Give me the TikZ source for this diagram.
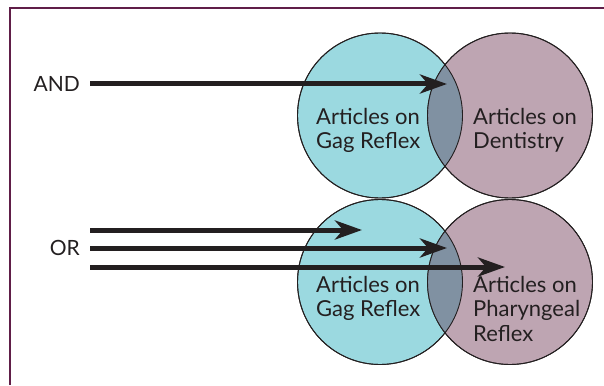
\documentclass[tikz,border=0pt]{standalone}
\usepackage{fontspec}
\setmainfont{Lato}
\usepackage{tikz}
\usetikzlibrary{arrows.meta,positioning}
\definecolor{SetCyan}{RGB}{155,217,224}
\definecolor{SetMauve}{RGB}{190,165,178}
\definecolor{SetBoth}{RGB}{128,145,162}
\definecolor{FrameWine}{RGB}{96,30,72}
\definecolor{InkDark}{RGB}{35,31,32}
\tikzset{
  setc/.style={circle,draw=InkDark,line width=0.9pt,minimum size=165pt,inner sep=0pt},
  stxt/.style={anchor=north west,align=left,inner sep=0pt,text=InkDark,font=\fontsize{22}{24.5}\selectfont},
  optxt/.style={text=InkDark,font=\fontsize{21}{24}\selectfont,inner sep=0pt},
  arr/.style={-{Stealth[length=27pt,width=19pt,inset=8pt]},InkDark,line width=5pt},
}

\begin{document}
\begin{tikzpicture}[x=1pt,y=-1pt]
    \useasboundingbox (0,0) rectangle (604,385);
    % frame
    \draw[FrameWine,line width=2.5pt] (10,385) -- (10,8) -- (604,8);
    % AND: gag reflex with dentistry
    \node[setc,fill=SetCyan] (gagA) at (380,115.5) {};
    \node[setc,fill=SetMauve] (dent) at (510,115.5) {};
    \begin{scope}
      \clip (gagA.center) circle (82.5);
      \fill[SetBoth] (dent.center) circle (82.5);
    \end{scope}
    \draw[InkDark,line width=0.9pt] (gagA.center) circle (82.5) (dent.center) circle (82.5);
    % OR: gag reflex with pharyngeal reflex
    \node[setc,fill=SetCyan] (gagB) at (380,282) {};
    \node[setc,fill=SetMauve] (phar) at (510,282) {};
    \begin{scope}
      \clip (gagB.center) circle (82.5);
      \fill[SetBoth] (phar.center) circle (82.5);
    \end{scope}
    \draw[InkDark,line width=0.9pt] (gagB.center) circle (82.5) (phar.center) circle (82.5);
    % set labels
    \node[stxt] (tgagA) at (316,108) {Articles on\\Gag Reflex};
    \node[stxt] (tdent) at (473,108) {Articles on\\Dentistry};
    \node[stxt] (tgagB) at (316,276) {Articles on\\Gag Reflex};
    \node[stxt] (tphar) at (473,276) {Articles on\\Pharyngeal\\Reflex};
    % operators
    \node[optxt,anchor=east] (and) at (80,84) {AND};
    \node[optxt,anchor=east] (or) at (80,248) {OR};
    \coordinate (andtip) at (447,84);
    \coordinate (ortipA) at (362,230);
    \coordinate (ortipB) at (447,248);
    \coordinate (ortipC) at (505,267);
    \draw[arr] ([xshift=10pt]and.east) -- (andtip);
    \draw[arr] ([xshift=10pt]or.east |- ortipA) -- (ortipA);
    \draw[arr] ([xshift=10pt]or.east) -- (ortipB);
    \draw[arr] ([xshift=10pt]or.east |- ortipC) -- (ortipC);
\end{tikzpicture}
\end{document}
